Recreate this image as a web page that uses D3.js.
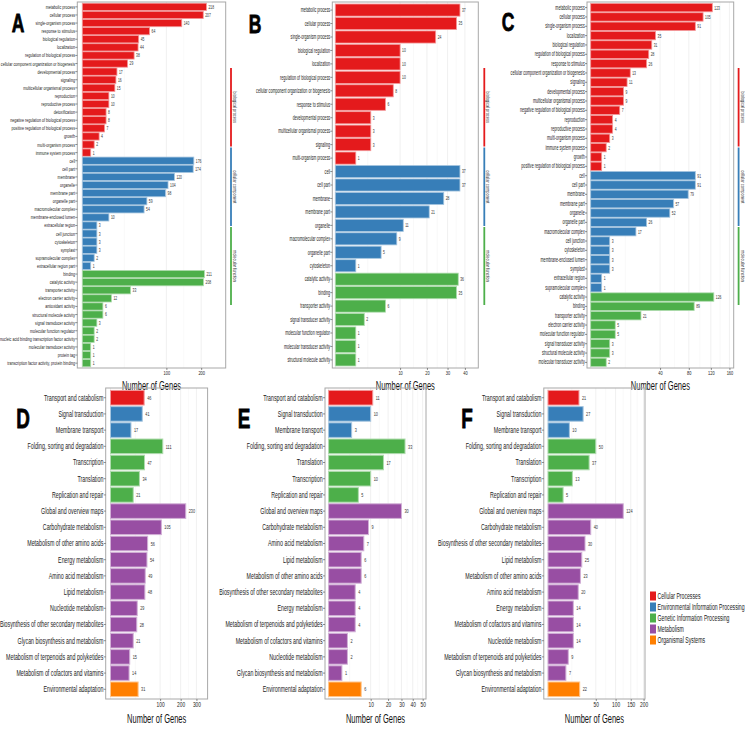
<!DOCTYPE html>
<html><head><meta charset="utf-8">
<script src="https://cdn.jsdelivr.net/npm/d3@7"></script>
<style>
body{margin:0;background:#fff;}
svg{display:block;}
text{font-family:"Liberation Sans Narrow","Arial Narrow","Liberation Sans",Arial,sans-serif;}
</style></head>
<body>
<svg id="c" width="745" height="745"></svg>
<script>
// ---------- DATA ----------
const A_bp_terms = ["metabolic process","cellular process","single-organism process","response to stimulus","biological regulation","localization","regulation of biological process","cellular component organization or biogenesis","developmental process","signaling","multicellular organismal process","reproduction","reproductive process","detoxification","negative regulation of biological process","positive regulation of biological process","growth","multi-organism process","immune system process"];
const A_bp_counts = [218,207,140,64,45,44,38,29,17,16,15,10,10,8,8,7,4,2,1];
const A_cc_terms = ["cell","cell part","membrane","organelle","membrane part","organelle part","macromolecular complex","membrane-enclosed lumen","extracellular region","cell junction","cytoskeleton","symplast","supramolecular complex","extracellular region part"];
const A_cc_counts = [176,174,120,104,98,59,54,10,3,3,3,3,2,1];
const A_mf_terms = ["binding","catalytic activity","transporter activity","electron carrier activity","antioxidant activity","structural molecule activity","signal transducer activity","molecular function regulator","nucleic acid binding transcription factor activity","molecular transducer activity","protein tag","transcription factor activity, protein binding"];
const A_mf_counts = [211,208,33,12,6,6,3,2,2,1,1,1];

const B_bp_terms = ["metabolic process","cellular process","single-organism process","biological regulation","localization","regulation of biological process","cellular component organization or biogenesis","response to stimulus","developmental process","multicellular organismal process","signaling","multi-organism process"];
const B_bp_counts = [37,35,24,10,10,10,8,6,3,3,3,1];
const B_cc_terms = ["cell","cell part","membrane","membrane part","organelle","macromolecular complex","organelle part","cytoskeleton"];
const B_cc_counts = [37,37,28,21,11,9,5,1];
const B_mf_terms = ["catalytic activity","binding","transporter activity","signal transducer activity","molecular function regulator","molecular transducer activity","structural molecule activity"];
const B_mf_counts = [36,35,6,2,1,1,1];

const C_bp_terms = ["metabolic process","cellular process","single-organism process","localization","biological regulation","regulation of biological process","response to stimulus","cellular component organization or biogenesis","signaling","developmental process","multicellular organismal process","negative regulation of biological process","reproduction","reproductive process","multi-organism process","immune system process","growth","positive regulation of biological process"];
const C_bp_counts = [123,105,91,35,31,28,26,13,11,9,9,7,4,4,3,2,1,1];
const C_cc_terms = ["cell","cell part","membrane","membrane part","organelle","organelle part","macromolecular complex","cell junction","cytoskeleton","membrane-enclosed lumen","symplast","extracellular region","supramolecular complex"];
const C_cc_counts = [91,91,79,57,52,26,17,3,3,3,3,1,1];
const C_mf_terms = ["catalytic activity","binding","transporter activity","electron carrier activity","molecular function regulator","signal transducer activity","structural molecule activity","molecular transducer activity"];
const C_mf_counts = [126,89,21,5,5,3,3,2];

const GO_classes = ["biological process","cellular component","molecular function"];

const KEGG_classes = ["Cellular Processes","Environmental Information Processing","Genetic Information Processing","Metabolism","Organismal Systems"];

const D_terms = ["Transport and catabolism","Signal transduction","Membrane transport","Folding, sorting and degradation","Transcription","Translation","Replication and repair","Global and overview maps","Carbohydrate metabolism","Metabolism of other amino acids","Energy metabolism","Amino acid metabolism","Lipid metabolism","Nucleotide metabolism","Biosynthesis of other secondary metabolites","Glycan biosynthesis and metabolism","Metabolism of terpenoids and polyketides","Metabolism of cofactors and vitamins","Environmental adaptation"];
const D_counts = [46,41,17,111,47,34,21,230,105,56,54,49,48,29,28,21,15,14,31];
const D_class = [0,1,1,2,2,2,2,3,3,3,3,3,3,3,3,3,3,3,4];

const E_terms = ["Transport and catabolism","Signal transduction","Membrane transport","Folding, sorting and degradation","Translation","Transcription","Replication and repair","Global and overview maps","Carbohydrate metabolism","Amino acid metabolism","Lipid metabolism","Metabolism of other amino acids","Biosynthesis of other secondary metabolites","Energy metabolism","Metabolism of terpenoids and polyketides","Metabolism of cofactors and vitamins","Nucleotide metabolism","Glycan biosynthesis and metabolism","Environmental adaptation"];
const E_counts = [11,10,3,33,17,10,5,30,9,7,6,6,4,4,4,2,2,1,6];
const E_class = [0,1,1,2,2,2,2,3,3,3,3,3,3,3,3,3,3,3,4];

const F_terms = ["Transport and catabolism","Signal transduction","Membrane transport","Folding, sorting and degradation","Translation","Transcription","Replication and repair","Global and overview maps","Carbohydrate metabolism","Biosynthesis of other secondary metabolites","Lipid metabolism","Metabolism of other amino acids","Amino acid metabolism","Energy metabolism","Metabolism of cofactors and vitamins","Nucleotide metabolism","Metabolism of terpenoids and polyketides","Glycan biosynthesis and metabolism","Environmental adaptation"];
const F_counts = [21,27,10,50,37,13,5,124,40,30,25,23,20,14,14,14,9,7,22];
const F_class = [0,1,1,2,2,2,2,3,3,3,3,3,3,3,3,3,3,3,4];

const A_ticks = [100,200], B_ticks = [10,20,30,40], C_ticks = [40,80,120,160];
const D_ticks = [100,200,300], E_ticks = [10,20,30,40,50], F_ticks = [50,100,150,200];

const palette = ["#E41A1C","#377EB8","#4DAF4A","#984EA3","#FF7F00"];
const axisTitle = "Number of Genes";

// ---------- DRAW ----------
const svg = d3.select("#c");

function placeText(sel, x, y, sx, sy, extra){
  return sel.attr("transform", `translate(${x},${y}) scale(${sx},${sy})` + (extra||""));
}

function drawPanel(o){
  const g = svg.append("g");
  const x = d3.scaleSqrt().domain([0, o.dmax]).range([o.xz, o.x1]);
  const idx = o.terms.map((d,i)=>i);
  const y = d3.scaleBand().domain(idx).range([o.y0, o.y1]).paddingInner(0.1).paddingOuter(0.15);
  // grid
  const majors = [0].concat(o.ticks);
  const minors = [];
  for(let i=0;i<majors.length-1;i++){ const m=(Math.sqrt(majors[i])+Math.sqrt(majors[i+1]))/2; minors.push(m*m); }
  g.selectAll(".mn").data(minors).join("line").attr("x1",d=>x(d)).attr("x2",d=>x(d)).attr("y1",o.y0).attr("y2",o.y1).attr("stroke","#f5f5f5").attr("stroke-width",0.6);
  g.selectAll(".mj").data(majors).join("line").attr("x1",d=>x(d)).attr("x2",d=>x(d)).attr("y1",o.y0).attr("y2",o.y1).attr("stroke","#ececec").attr("stroke-width",0.8);
  // bars
  g.selectAll(".bar").data(idx).join("rect")
    .attr("x", x(0)).attr("y", i=>y(i)).attr("width", i=>x(o.counts[i])-x(0)).attr("height", y.bandwidth())
    .attr("fill", i=>o.colors[i]).attr("stroke", i=>d3.interpolateRgb(o.colors[i],"#fff")(0.55)).attr("stroke-width", o.sw);
  // value labels
  g.selectAll(".val").data(idx).join("text")
    .each(function(i){ placeText(d3.select(this), x(o.counts[i])+o.vgap, y(i)+y.bandwidth()/2, 0.76, o.vsy); })
    .attr("dy","0.35em").attr("font-size", o.vfs).attr("fill","#333").text(i=>o.counts[i]);
  // frame
  g.append("rect").attr("x",o.x0).attr("y",o.y0).attr("width",o.x1-o.x0).attr("height",o.y1-o.y0)
    .attr("fill","none").attr("stroke","#a8a8a8").attr("stroke-width",1);
  // y axis
  const ya = g.append("g").attr("transform",`translate(${o.x0},0)`)
    .call(d3.axisLeft(y).tickFormat(i=>o.terms[i]).tickSize(o.ts).tickPadding(1));
  ya.select(".domain").remove();
  ya.attr("font-family",null);
  ya.selectAll("line").attr("stroke","#444").attr("stroke-width",0.6);
  ya.selectAll("text").attr("font-size",o.yfs).attr("fill","#222").attr("transform",`scale(${o.ysx},${o.ysy})`);
  // x axis
  const xa = g.append("g").attr("transform",`translate(0,${o.y1})`)
    .call(d3.axisBottom(x).tickValues(o.ticks).tickSize(o.ts).tickPadding(1));
  xa.select(".domain").remove();
  xa.attr("font-family",null);
  xa.selectAll("line").attr("stroke","#444").attr("stroke-width",0.6);
  xa.selectAll("text").attr("font-size",o.xfs).attr("fill","#222").attr("transform",`scale(0.76,1.1)`);
  // title
  placeText(g.append("text"), (o.x0+o.x1)/2, o.ty, 0.6, 1.05).attr("text-anchor","middle")
    .attr("font-size",12.5).attr("fill","#111").text(axisTitle);
  // letter
  placeText(g.append("text"), o.lx, o.ly, 0.7, 1).attr("text-anchor","middle")
    .attr("font-size",o.lfs).attr("font-weight","bold").attr("stroke","#000").attr("stroke-width",0.8).attr("fill","#000").text(o.letter);
  return {x,y,g};
}

function goPanel(letter, bpT, bpC, ccT, ccC, mfT, mfC, geo){
  const terms = bpT.concat(ccT, mfT);
  const counts = bpC.concat(ccC, mfC);
  const colors = bpT.map(()=>palette[0]).concat(ccT.map(()=>palette[1]), mfT.map(()=>palette[2]));
  const p = drawPanel(Object.assign({terms,counts,colors,letter,y0:2,y1:368,ts:2,yfs:4.8,ysx:0.76,ysy:geo.ysy,vfs:4.4,vsy:1.25,xfs:5.2,ty:389.5,sw:0.8,vgap:2,lfs:25}, geo));
  // strip legend
  const segs = [[68,146.5],[147.5,226],[227,305]];
  const sg = svg.append("g");
  GO_classes.forEach((c,i)=>{
    sg.append("line").attr("x1",geo.sx).attr("x2",geo.sx).attr("y1",segs[i][0]).attr("y2",segs[i][1])
      .attr("stroke",palette[i]).attr("stroke-width",1.8);
    const cy = (segs[i][0]+segs[i][1])/2;
    sg.append("text").attr("transform",`translate(${geo.sx+2},${cy}) rotate(90) scale(0.76,1)`).attr("text-anchor","middle")
      .attr("font-size",5.2).attr("fill","#333").text(c);
  });
  return p;
}

goPanel("A", A_bp_terms, A_bp_counts, A_cc_terms, A_cc_counts, A_mf_terms, A_mf_counts,
  {x0:77.3, x1:225.7, xz:82.3, dmax:291, ticks:A_ticks, sx:231, lx:18, ly:32, ysy:1.3});
goPanel("B", B_bp_terms, B_bp_counts, B_cc_terms, B_cc_counts, B_mf_terms, B_mf_counts,
  {x0:332.3, x1:478.3, xz:335.3, dmax:48.7, ticks:B_ticks, sx:484.3, lx:255, ly:33, ysy:1.5});
goPanel("C", C_bp_terms, C_bp_counts, C_cc_terms, C_cc_counts, C_mf_terms, C_mf_counts,
  {x0:587, x1:733.7, xz:590.7, dmax:170, ticks:C_ticks, sx:738.6, lx:508, ly:31, ysy:1.35});

function keggPanel(letter, terms, counts, cls, geo){
  const colors = cls.map(c=>palette[c]);
  return drawPanel(Object.assign({terms,counts,colors,letter,y0:388,y1:699,ts:2,yfs:6.8,ysx:0.78,ysy:1.3,vfs:5,vsy:1.25,xfs:6.4,ty:723,sw:1,vgap:3,lfs:27}, geo));
}
keggPanel("D", D_terms, D_counts, D_class, {x0:105.7, x1:207.6, xz:110.5, dmax:383, ticks:D_ticks, lx:23, ly:428});
keggPanel("E", E_terms, E_counts, E_class, {x0:325, x1:426, xz:328.6, dmax:53.6, ticks:E_ticks, lx:244, ly:428});
keggPanel("F", F_terms, F_counts, F_class, {x0:543.8, x1:645, xz:548, dmax:206, ticks:F_ticks, lx:467, ly:428});

// legend
const lg = svg.append("g");
KEGG_classes.forEach((c,i)=>{
  const yy = 596 + i*11;
  lg.append("rect").attr("x",650).attr("y",yy-4.5).attr("width",6).attr("height",9).attr("fill",palette[i]);
  placeText(lg.append("text"), 657.5, yy, 0.76, 1.2).attr("dy","0.35em").attr("font-size",6.8).attr("fill","#222").text(c);
});
</script>
</body></html>
